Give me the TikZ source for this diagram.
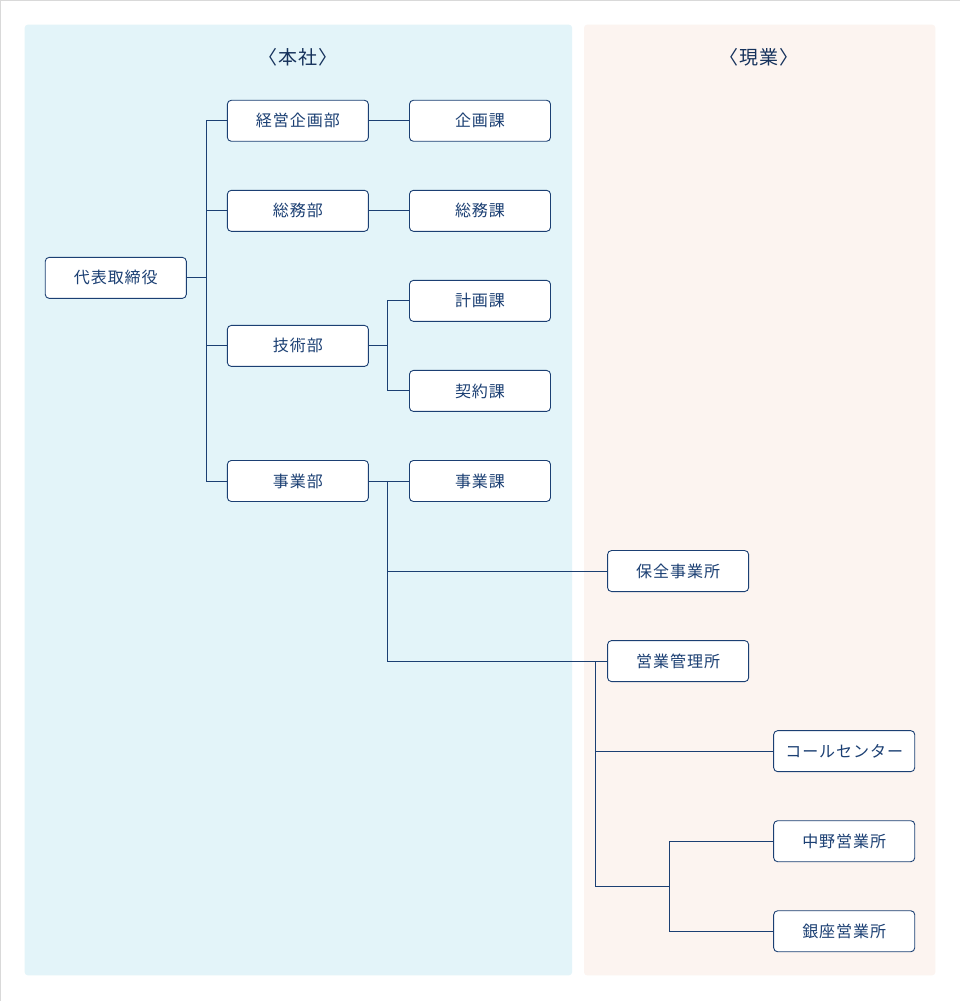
\documentclass[tikz,border=0pt]{standalone}
\usepackage{fontspec}
\setmainfont{Noto Sans CJK JP}[LetterSpace=6]
\definecolor{linecol}{HTML}{1B3F73}
\definecolor{hqbg}{HTML}{E3F4F9}
\definecolor{fieldbg}{HTML}{FCF4F0}
\tikzset{
  unit/.style={draw=linecol, fill=white, rounded corners=4pt, line width=0.9pt, minimum width=141pt, minimum height=41pt, inner sep=0pt, text=linecol, font=\fontsize{16}{19}\selectfont},
  link/.style={draw=linecol, line width=0.9pt},
  title/.style={text=linecol!80!black, font=\fontsize{19}{23}\selectfont}
}
\begin{document}
\begin{tikzpicture}[x=1pt,y=-1pt]
  \draw[draw=black!15, fill=white] (0.5,0.5) rectangle (959.5,1000.5);
  \fill[hqbg, rounded corners=3pt] (25,25) rectangle (572,975);
  \fill[fieldbg, rounded corners=3pt] (584,25) rectangle (935,975);
  \node[title] (hq) at (298,58) {〈本社〉};
  \node[title] (field) at (759,58) {〈現業〉};
  \node[unit] (ceo) at (116,278) {代表取締役};
  \node[unit] (plan) at (298,121) {経営企画部};
  \node[unit] (gen) at (298,211) {総務部};
  \node[unit] (tech) at (298,346) {技術部};
  \node[unit] (biz) at (298,481) {事業部};
  \node[unit] (plansec) at (480,121) {企画課};
  \node[unit] (gensec) at (480,211) {総務課};
  \node[unit] (techplan) at (480,301) {計画課};
  \node[unit] (contract) at (480,391) {契約課};
  \node[unit] (bizsec) at (480,481) {事業課};
  \node[unit] (maint) at (678,571) {保全事業所};
  \node[unit] (sales) at (678,661) {営業管理所};
  \node[unit] (call) at (844,751) {コールセンター};
  \node[unit] (nakano) at (844,841) {中野営業所};
  \node[unit] (ginza) at (844,931) {銀座営業所};
  \coordinate (b1) at (207,278);
  \coordinate (b2) at (388,346);
  \coordinate (b3) at (388,481);
  \coordinate (b4) at (595,661);
  \coordinate (b5) at (669,886);
  \draw[link] (ceo.east) -- (b1);
  \draw[link] (plan.west) -| (b1) |- (biz.west);
  \draw[link] (b1 |- gen.west) -- (gen.west);
  \draw[link] (b1 |- tech.west) -- (tech.west);
  \draw[link] (plan.east) -- (plansec.west);
  \draw[link] (gen.east) -- (gensec.west);
  \draw[link] (tech.east) -- (b2);
  \draw[link] (techplan.west) -| (b2) |- (contract.west);
  \draw[link] (biz.east) -- (bizsec.west);
  \draw[link] (b3) |- (sales.west);
  \draw[link] (b3 |- maint.west) -- (maint.west);
  \draw[link] (b4) |- (b5);
  \draw[link] (b4 |- call.west) -- (call.west);
  \draw[link] (nakano.west) -| (b5) |- (ginza.west);
\end{tikzpicture}
\end{document}
